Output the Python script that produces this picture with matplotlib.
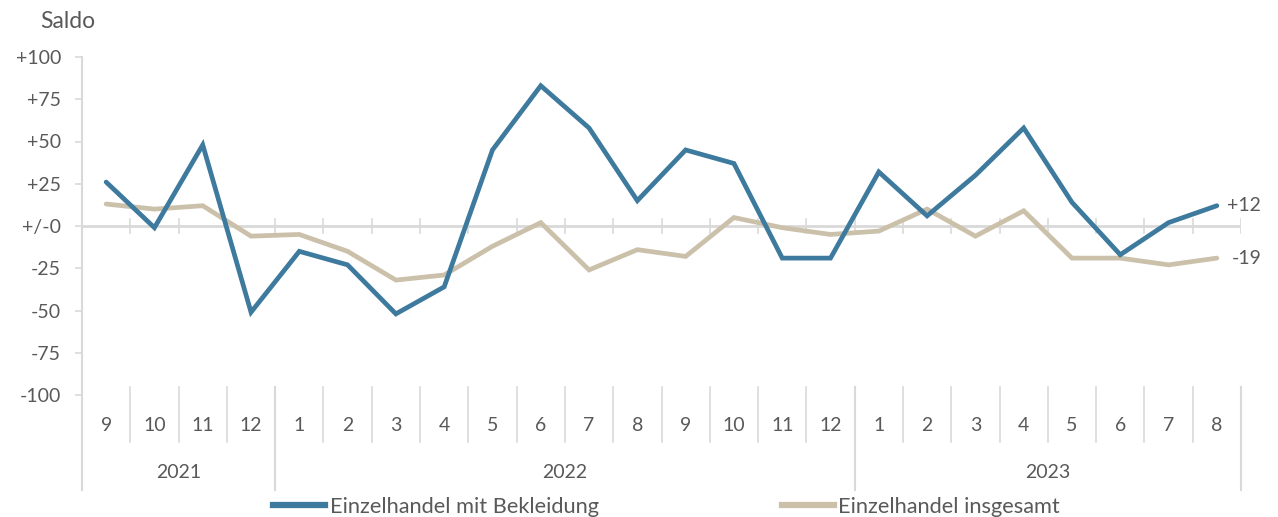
import matplotlib
matplotlib.use("Agg")
import matplotlib.pyplot as plt
from matplotlib.lines import Line2D

plt.rcParams['font.family'] = ['Lato', 'Open Sans', 'DejaVu Sans']

months = ["9", "10", "11", "12", "1", "2", "3", "4", "5", "6", "7", "8",
          "9", "10", "11", "12", "1", "2", "3", "4", "5", "6", "7", "8"]
years = ["2021", "2022", "2023"]
year_counts = [4, 12, 8]
bekleidung = [26, -1, 48, -51, -15, -23, -52, -36, 45, 83, 58, 15,
              45, 37, -19, -19, 32, 6, 30, 58, 14, -17, 2, 12]
insgesamt = [13, 10, 12, -6, -5, -15, -32, -29, -12, 2, -26, -14,
             -18, 5, -1, -5, -3, 10, -6, 9, -19, -19, -23, -19]
yticks = [100, 75, 50, 25, 0, -25, -50, -75, -100]
ytick_labels = ["+100", "+75", "+50", "+25", "+/-0", "-25", "-50", "-75", "-100"]

blue = "#3d7a9e"
beige = "#cbc0a9"
grid = "#d9d9d9"
txt = "#595959"
fs = 14

fig = plt.figure(figsize=(12.78, 5.17), dpi=100)
ax = fig.add_axes([82/1278, 1-395/517, (1241-82)/1278, (395-57)/517])
n = len(months)
x = list(range(n))
ax.set_xlim(-0.5, n-0.5)
ax.set_ylim(-100, 100)
for s in ax.spines.values():
    s.set_visible(False)

ax.set_yticks(yticks)
ax.set_yticklabels(ytick_labels, color=txt, fontsize=fs)
ax.tick_params(axis='y', length=5, color=grid, width=1.2, pad=10)
ax.set_xticks([])

# zero line
ax.plot([-0.5, n-0.5], [0, 0], color=grid, lw=2, zorder=1, solid_capstyle='butt')
for i in range(n+1):
    ax.plot([i-0.5, i-0.5], [-4, 4], color=grid, lw=1.2, zorder=1)

# left axis line
ax.plot([-0.5, -0.5], [100, -156], color=grid, lw=1.5, clip_on=False, zorder=1)

ax.plot(x, insgesamt, color=beige, lw=3.4, zorder=3, solid_capstyle='round', solid_joinstyle='miter')
ax.plot(x, bekleidung, color=blue, lw=3.4, zorder=4, solid_capstyle='round', solid_joinstyle='miter')

ax.text(n-1+0.22, bekleidung[-1], "+%d" % bekleidung[-1], color=txt, fontsize=fs, va='center', ha='left')
ax.text(n-1+0.3, insgesamt[-1], "%d" % insgesamt[-1], color=txt, fontsize=fs, va='center', ha='left')

# category labels
for i, m in enumerate(months):
    ax.text(i, -117.8, m, ha='center', va='center', color=txt, fontsize=fs, clip_on=False)
for i in range(1, n):
    ax.plot([i-0.5, i-0.5], [-95.3, -127.8], color=grid, lw=1.2, clip_on=False)
start = 0
bounds = [0]
for y, c in zip(years, year_counts):
    ax.text(start + c/2 - 0.5, -145.6, y, ha='center', va='center', color=txt, fontsize=fs, clip_on=False)
    start += c
    bounds.append(start)
for b in bounds[1:]:
    ax.plot([b-0.5, b-0.5], [-95.3, -156], color=grid, lw=1.5, clip_on=False)

fig.text(40/1278, 1-22/517, "Saldo", color=txt, fontsize=16.5, va='center', ha='left')

handles = [Line2D([0], [0], color=blue, lw=4.5), Line2D([0], [0], color=beige, lw=4.5)]
fig.legend(handles, ["Einzelhandel mit Bekleidung", "Einzelhandel insgesamt"],
           loc='center', bbox_to_anchor=(0.5215, 1-507/517), ncol=2, frameon=False,
           fontsize=15.7, labelcolor=txt, handlelength=2.4, handletextpad=0.2,
           columnspacing=8.4, borderpad=0)

fig.savefig("out.png", dpi=100)
